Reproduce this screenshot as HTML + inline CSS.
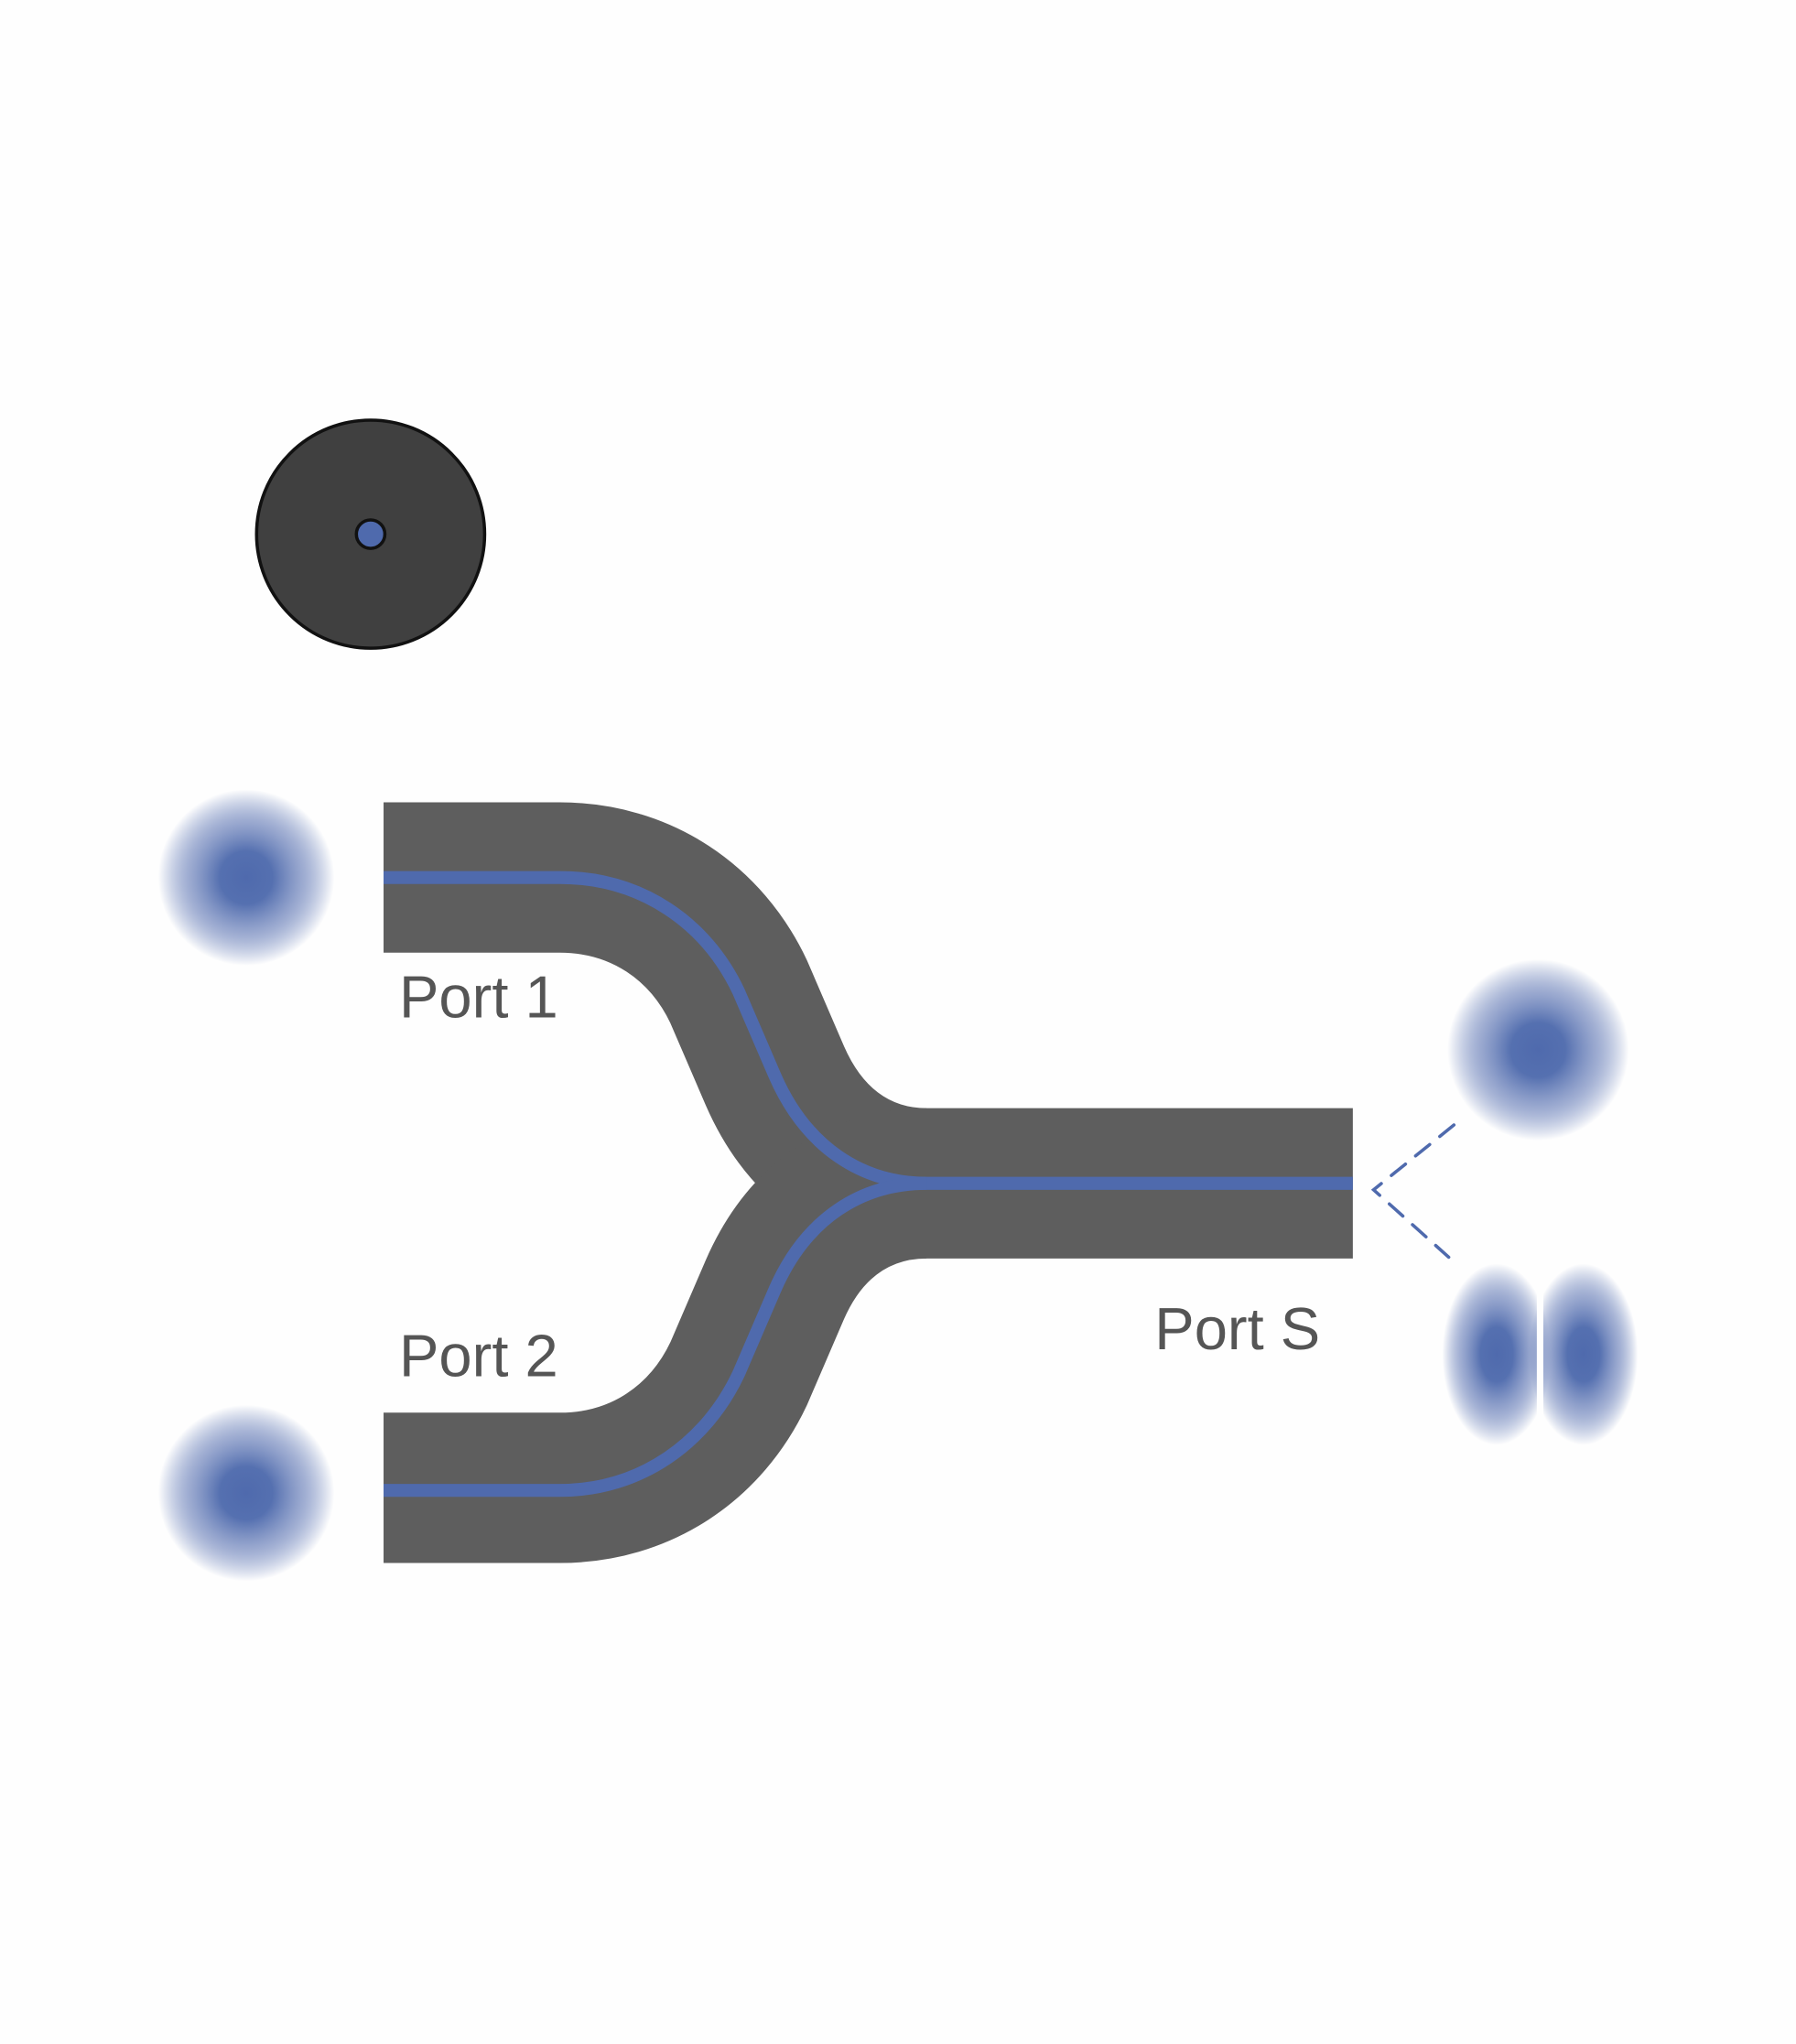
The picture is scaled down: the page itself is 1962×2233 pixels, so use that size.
<!DOCTYPE html>
<html><head><style>html,body{margin:0;padding:0;background:#fefefe}svg{display:block}</style></head>
<body>
<svg width="1962" height="2233" viewBox="0 0 1386 1577" xmlns="http://www.w3.org/2000/svg">
<defs>
<radialGradient id="g"><stop offset="0" stop-color="#4f6aad"/><stop offset="0.3" stop-color="#5570b0"/><stop offset="0.65" stop-color="#7d90c2" stop-opacity="0.75"/><stop offset="1" stop-color="#4f6aad" stop-opacity="0"/></radialGradient>
</defs>
<rect width="1386" height="1577" fill="#fefefe"/>
<circle cx="286" cy="412" r="88" fill="#404040" stroke="#111" stroke-width="2.5"/>
<circle cx="286" cy="412" r="11" fill="#4f6aad" stroke="#111" stroke-width="2.5"/>
<g fill="none" stroke="#5e5e5e" stroke-width="116">
<path d="M296 677 H432 C495 677 545 712 570 765 L598 830 C622 885 665 913 715 913 H1044"/>
<path d="M296 1148 H432 C495 1148 545 1113 570 1060 L598 995 C622 940 665 913 715 913"/>
</g>
<g fill="none" stroke="#4f6aad" stroke-width="10">
<path d="M296 677 H432 C495 677 545 712 570 765 L598 830 C622 885 665 913 715 913 H1044"/>
<path d="M296 1150 H432 C495 1150 545 1113 570 1060 L598 995 C622 940 665 913 715 913"/>
</g>
<g stroke="#4f6aad" stroke-width="2.5" stroke-dasharray="14 10" fill="none" stroke-linecap="round">
<path d="M1122 868 L1060 918 L1118 970"/>
</g>
<circle cx="190" cy="677" r="68" fill="url(#g)"/>
<circle cx="190" cy="1152" r="68" fill="url(#g)"/>
<circle cx="1187" cy="810" r="70" fill="url(#g)"/>
<ellipse cx="1155" cy="1045" rx="42" ry="70" fill="url(#g)"/>
<ellipse cx="1222" cy="1045" rx="42" ry="70" fill="url(#g)"/>
<rect x="1186" y="970" width="5" height="150" fill="#fefefe"/>
<g font-family="Liberation Sans, sans-serif" font-size="46" fill="#555">
<text x="308" y="785">Port 1</text>
<text x="308" y="1062">Port 2</text>
<text x="891" y="1041">Port S</text>
</g>
</svg>
</body></html>
